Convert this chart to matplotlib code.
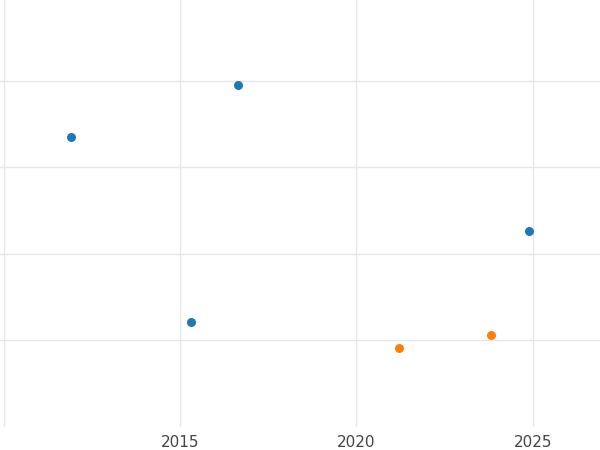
import matplotlib
matplotlib.use("Agg")
import matplotlib.pyplot as plt

blue_x = [2011.9, 2016.65, 2015.3, 2024.9]
blue_y = [2.35, 2.95, 0.21, 1.26]
orange_x = [2021.2, 2023.8]
orange_y = [-0.09, 0.06]

fig = plt.figure(figsize=(6, 4.5), dpi=100)
ax = fig.add_axes([0, 23 / 450, 1, 427 / 450])
ax.scatter(blue_x, blue_y, color='#1f77b4', s=30, zorder=3)
ax.scatter(orange_x, orange_y, color='#ff7f0e', s=30, zorder=3)

ax.set_xlim(2009.9, 2026.9)
ax.set_ylim(-1, 3.93)
ax.set_xticks([2010, 2015, 2020, 2025])
ax.set_xticklabels(['', '2015', '2020', '2025'])
ax.set_yticks([0, 1, 2, 3])
ax.tick_params(axis='y', length=0, labelleft=False)
ax.tick_params(axis='x', length=0, labelsize=11, labelcolor='#444444', pad=6)
ax.grid(True, color='#e6e6e6', linewidth=1)
ax.set_axisbelow(True)
for s in ax.spines.values():
    s.set_visible(False)

fig.savefig("out.png")
